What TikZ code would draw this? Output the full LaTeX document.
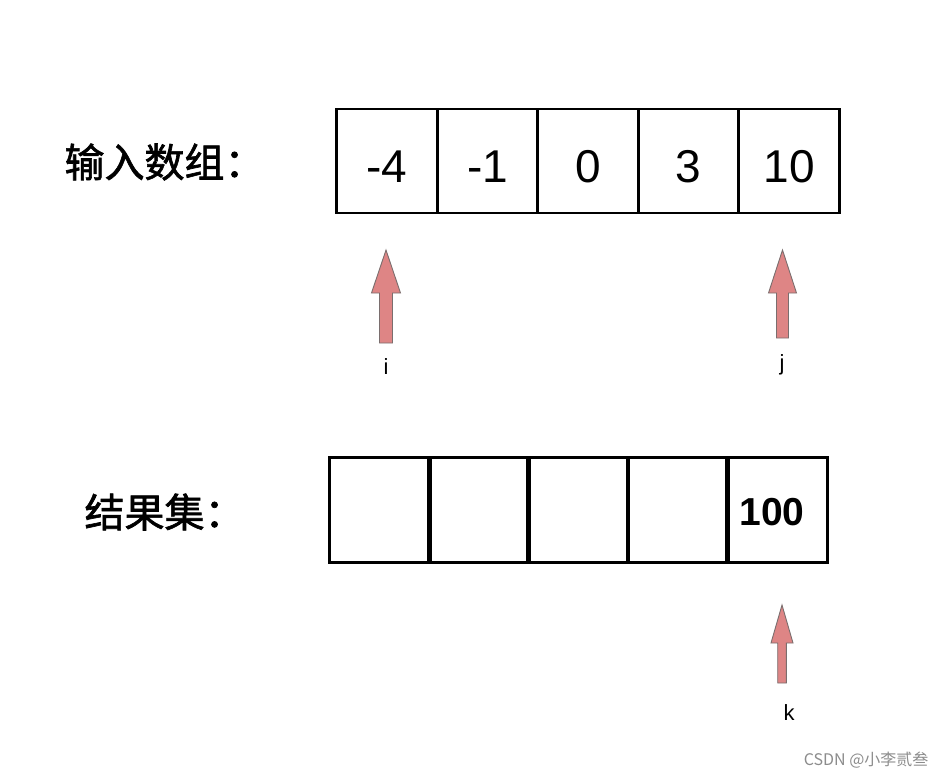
\documentclass[tikz,border=0pt]{standalone}
\usepackage{fontspec}
\setmainfont{Liberation Sans}
\newfontfamily\cjk{Noto Sans CJK SC}
\newfontfamily\cjkm[FakeBold=1.6]{Noto Sans CJK SC}
\definecolor{arrfill}{HTML}{DE8585}
\definecolor{arrline}{HTML}{7A6E6E}
\definecolor{wm}{HTML}{8C8C8C}
\newcommand\blockarrow[7]{% name, x, ytip, yheadbottom, yend, headhalf, shafthalf
  \draw[arrowshape] (#2,#3) -- (#2+#6,#4) -- (#2+#7,#4) -- (#2+#7,#5) -- (#2-#7,#5) -- (#2-#7,#4) -- (#2-#6,#4) -- cycle;
  \coordinate (#1) at (#2,#3);
}
\begin{document}
\begin{tikzpicture}[x=1pt,y=-1pt,
  cell/.style={draw=black,line width=2.6pt,minimum width=101pt,minimum height=104pt,inner sep=0pt,
    font=\fontsize{46}{50}\selectfont,text height=42pt,text depth=0pt},
  cellb/.style={cell,minimum height=105pt},
  arrowshape/.style={fill=arrfill,draw=arrline,line width=0.9pt,line join=miter},
  ptr/.style={font=\fontsize{22}{24}\selectfont,anchor=base},
  cn/.style={font=\cjkm\fontsize{40}{44}\selectfont,anchor=west}]
\useasboundingbox (0,0) rectangle (947,779);
% labels
\node[cn] (lin) at (61,162) {输入数组：};
\node[cn] (lres) at (81,512) {结果集：};
% input row
\node[cell] (a1) at (387,161) {-4};
\node[cell] (a2) at (487.5,161) {-1};
\node[cell] (a3) at (588,161) {0};
\node[cell] (a4) at (688.5,161) {3};
\node[cell] (a5) at (789,161) {10};
% result row
\node[cellb] (b1) at (380,510) {};
\node[cellb] (b2) at (479,510) {};
\node[cellb] (b3) at (578,510) {};
\node[cellb] (b4) at (678,510) {};
\node[cellb] (b5) at (777,510) {};
\node[font=\bfseries\fontsize{39}{42}\selectfont] (v100) at (772,512.5) {100};
% pointers
\blockarrow{ai}{386}{250}{293}{343}{14.5}{6.5}
\blockarrow{aj}{782.5}{250}{293}{338}{14}{6}
\blockarrow{ak}{782}{605}{643}{683}{11}{4.3}
\node[ptr] (li) at (386,374) {i};
\node[ptr] (lj) at (782,370) {j};
\node[ptr] (lk) at (789,720) {k};
% watermark
\node[font=\cjk\fontsize{16}{18}\selectfont,text=wm,anchor=east] (wmk) at (932,760) {CSDN @小李贰叁};
\end{tikzpicture}
\end{document}
